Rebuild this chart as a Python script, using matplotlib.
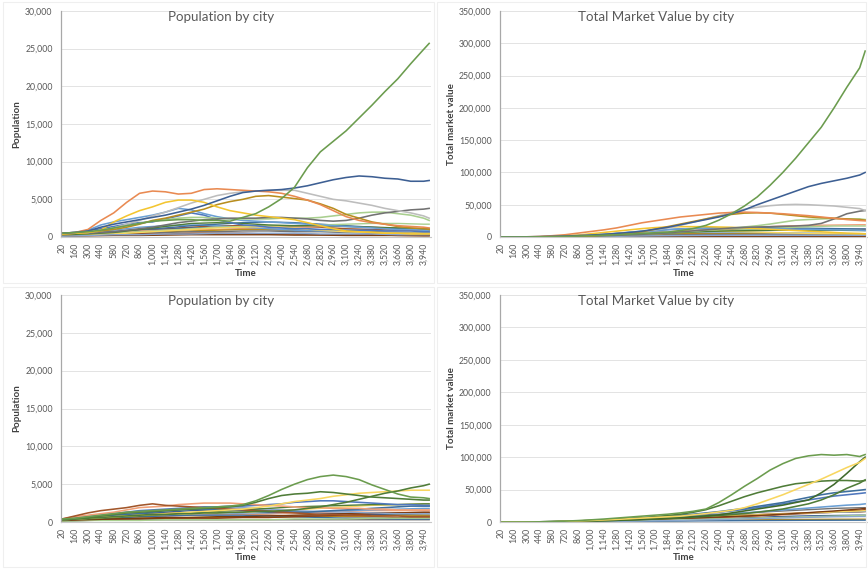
import matplotlib
matplotlib.use("Agg")
import matplotlib.pyplot as plt
from matplotlib.ticker import FuncFormatter, MultipleLocator

plt.rcParams['font.family'] = ['Lato', 'DejaVu Sans']

# ---------------------------------------------------------------- time axes
TIME = [20, 160, 300, 440, 580, 720, 860, 1000, 1140, 1280, 1420, 1560, 1700,
        1840, 1980, 2120, 2260, 2400, 2540, 2680, 2820, 2960, 3100, 3240, 3380,
        3520, 3660, 3800, 3940, 4000]
TIME_COARSE = [20, 300, 580, 860, 1140, 1420, 1700, 1980, 2260, 2540, 2820,
               3100, 3380, 3660, 3940, 4000]
TIME_TICKS = list(range(20, 3941, 140))

# ---------------------------------------------------------------- run A: population
POP_A_GREEN = [500, 600, 700, 900, 1200, 1500, 1800, 2100, 2200, 2300, 2300, 2200, 2200,
               2100, 2600, 3100, 4000, 5100, 6600, 9200, 11300, 12700, 14100, 15800, 17500,
               19300, 21000, 23000, 24900, 25700]
POP_A_DARKBLUE = [500, 600, 800, 1300, 1700, 2000, 2300, 2600, 2900, 3300, 3700, 4200, 4800,
                  5400, 5900, 6100, 6200, 6300, 6500, 6800, 7200, 7600, 7900, 8100, 8000,
                  7800, 7700, 7400, 7400, 7500]
POP_A_ORANGE = [500, 600, 1000, 2200, 3200, 4600, 5800, 6100, 6000, 5700, 5800, 6300, 6400,
                6300, 6200, 6100, 6000, 5800, 5400, 4900, 4300, 3500, 2700, 2200, 1900,
                1700, 1500, 1400, 1300, 1200]
POP_A_YELLOW = [400, 500, 600, 900, 2000, 2800, 3500, 4000, 4600, 4900, 4900, 4600, 4000,
                3500, 3200, 2900, 2700, 2500, 2300, 1900, 1500, 1100, 800, 700, 600,
                500, 500, 400, 400, 400]
POP_A_GOLD = [400, 500, 600, 800, 1000, 1300, 1700, 2200, 2500, 2900, 3300, 3700, 4300,
              4700, 5000, 5400, 5500, 5300, 5100, 4900, 4400, 3800, 3000, 2500, 2000,
              1700, 1400, 1200, 1100, 1000]
POP_A_LIGHTGRAY = [500, 500, 600, 800, 1200, 1700, 2200, 2800, 3300, 3900, 4500, 5000, 5500,
                   5800, 6000, 6100, 6200, 6200, 6200, 5800, 5400, 5000, 4800, 4500, 4200,
                   3800, 3500, 3200, 2800, 2500]
POP_A_DARKGRAY = [400, 500, 500, 600, 700, 900, 1100, 1300, 1600, 1900, 2100, 2300, 2400,
                  2500, 2500, 2500, 2600, 2600, 2500, 2400, 2200, 2100, 2200, 2500, 2900,
                  3200, 3400, 3600, 3700, 3800]
POP_A_LIGHTGREEN = [500, 500, 600, 900, 1200, 1500, 1800, 2100, 2300, 2500, 2600, 2600, 2500,
                    2400, 2400, 2400, 2400, 2500, 2500, 2500, 2600, 2800, 3000, 3200, 3300,
                    3300, 3100, 2900, 2500, 2200]
POP_A_BLUE = [500, 600, 900, 1600, 2000, 2300, 2600, 2900, 3300, 3800, 3600, 3100, 2700,
              2400, 2200, 2100, 2000, 1900, 1800, 1700, 1600, 1500, 1400, 1300, 1200,
              1100, 1000, 1000, 900, 900]
POP_A_BLUE2 = [500, 600, 800, 1100, 1400, 1700, 1900, 2000, 2400, 2800, 3200, 2900, 2300,
               1900, 1600, 1500, 1300, 1200, 1100, 1100, 1000, 1000, 900, 900, 900,
               800, 800, 800, 700, 700]
POP_A_MINOR = [
    [400, 500, 700, 900, 1100, 1300, 1500, 1500, 1500, 1400, 1300, 1100, 1000, 900, 900, 900],
    [400, 500, 600, 800, 1000, 1200, 1300, 1200, 1000, 900, 800, 700, 600, 600, 500, 500],
    [300, 400, 600, 800, 900, 1000, 1000, 1100, 1200, 1300, 1400, 1400, 1300, 1200, 1100, 1100],
    [300, 400, 500, 600, 700, 800, 900, 1000, 1000, 900, 800, 700, 700, 600, 600, 600],
    [300, 300, 400, 500, 600, 700, 700, 800, 800, 700, 700, 600, 500, 500, 400, 400],
    [500, 600, 900, 1300, 1500, 1600, 1500, 1300, 1100, 900, 800, 700, 600, 500, 500, 500],
    [400, 500, 700, 1000, 1200, 1500, 1700, 1900, 2000, 1900, 1700, 1500, 1300, 1100, 1000, 1000],
    [200, 300, 300, 400, 400, 500, 500, 500, 400, 400, 300, 300, 300, 200, 200, 200],
    [300, 400, 500, 700, 900, 1100, 1300, 1400, 1500, 1500, 1600, 1700, 1800, 1800, 1700, 1700],
    [200, 300, 400, 600, 800, 1000, 1200, 1300, 1400, 1200, 900, 700, 600, 500, 500, 500],
    [100, 150, 200, 200, 250, 300, 300, 300, 300, 250, 250, 200, 200, 200, 150, 150],
    [100, 200, 300, 300, 400, 400, 500, 500, 500, 500, 400, 400, 400, 300, 300, 300],
    [300, 400, 600, 1000, 1400, 1800, 1900, 1800, 1600, 1500, 1500, 1400, 1300, 1200, 1100, 1100],
]

# ---------------------------------------------------------------- run A: market value
MV_A_GREEN = [0, 0, 100, 300, 600, 1000, 1500, 2000, 2800, 3500, 4500, 5500, 6500, 7500,
              10000, 13000, 18000, 26000, 36000, 48000, 62000, 80000, 100000, 122000,
              146000, 170000, 200000, 232000, 262000, 288000]
MV_A_DARKBLUE = [0, 100, 300, 600, 1000, 1500, 2200, 3000, 4000, 5500, 7000, 9000, 12000,
                 15000, 19000, 23000, 27000, 31000, 36000, 42000, 50000, 57000, 64000,
                 71000, 78000, 83000, 87000, 91000, 96000, 100000]
MV_A_ORANGE = [0, 100, 300, 800, 2000, 3500, 6000, 8500, 11000, 14000, 18000, 22000, 25000,
               28000, 31000, 33000, 35000, 37000, 38000, 38500, 38000, 37000, 36000, 34500,
               33000, 31000, 29000, 27000, 25500, 25000]
MV_A_GOLD = [0, 100, 200, 400, 700, 1000, 1300, 1500, 3000, 4500, 6000, 8000, 12000, 16000,
             20000, 24000, 28000, 32000, 35000, 37000, 37500, 37000, 35000, 33000, 31000,
             30000, 29000, 28000, 27000, 26000]
MV_A_LIGHTGRAY = [0, 100, 200, 500, 900, 1400, 2000, 2800, 3800, 5000, 6500, 8500, 11000,
                  14000, 18000, 23000, 28000, 33000, 38000, 43000, 46000, 48500, 50000,
                  50500, 50000, 49000, 48000, 46000, 44000, 41000]
MV_A_DARKGRAY = [0, 0, 100, 200, 400, 600, 900, 1300, 1800, 2500, 3300, 4200, 5300, 6500,
                 8000, 9500, 11000, 12500, 14000, 15000, 15500, 16000, 16500, 17000, 18000,
                 21000, 28000, 36000, 40000, 41000]
MV_A_LIGHTGREEN = [0, 0, 100, 200, 400, 700, 1000, 1500, 2100, 2900, 3800, 4800, 5900, 7000,
                   8000, 9000, 10500, 12000, 13500, 15500, 17500, 20000, 23000, 26000,
                   27000, 28000, 28500, 28000, 28000, 27000]
MV_A_YELLOW = [0, 0, 100, 300, 800, 1700, 3000, 5000, 7000, 9000, 11000, 13000, 14500,
               15500, 16000, 16000, 16000, 15500, 15000, 14000, 13000, 12000, 11000,
               10000, 9000, 8000, 7000, 6000, 5500, 5000]
MV_A_BLUE = [0, 0, 100, 300, 500, 900, 1500, 2500, 4000, 5500, 7500, 9000, 10000, 11500,
             12500, 13000, 13500, 14000, 14000, 13500, 13000, 12800, 12500, 12000, 12000,
             11500, 11000, 11000, 10500, 10000]
MV_A_MINOR = [
    [0, 100, 500, 1500, 3000, 5000, 7000, 9000, 11000, 12000, 13000, 13000, 13000, 12000, 12000, 12000],
    [0, 100, 400, 1200, 2500, 4000, 5000, 5500, 5500, 5000, 4500, 4000, 3500, 3000, 3000, 3000],
    [0, 100, 500, 1500, 3000, 5000, 7000, 9000, 11000, 13000, 15000, 17000, 18000, 18500, 19000, 19000],
    [0, 100, 300, 900, 1800, 3000, 4000, 5000, 5500, 5500, 5000, 4500, 4000, 3800, 3500, 3500],
    [0, 100, 200, 600, 1200, 2000, 2800, 3500, 4000, 4000, 3800, 3500, 3200, 3000, 2800, 2800],
    [0, 100, 600, 2000, 4000, 6000, 7500, 8000, 8000, 7500, 7000, 6500, 6000, 5500, 5000, 5000],
    [0, 100, 500, 1800, 4000, 7000, 10000, 12500, 14000, 14500, 14500, 14000, 13500, 13000, 12500, 12500],
    [0, 0, 100, 200, 300, 500, 600, 700, 700, 700, 600, 600, 500, 500, 400, 400],
    [0, 100, 300, 1000, 2000, 3500, 5000, 7000, 9000, 10500, 12000, 14000, 16000, 17000, 17000, 17000],
    [0, 100, 300, 1000, 2500, 4500, 6500, 8000, 9000, 8500, 7500, 6500, 5500, 5000, 4500, 4500],
    [0, 0, 50, 100, 200, 300, 300, 300, 300, 300, 300, 250, 250, 250, 200, 200],
    [0, 50, 150, 400, 800, 1300, 1800, 2200, 2500, 2700, 2800, 2800, 2800, 2700, 2600, 2600],
    [0, 100, 400, 1200, 2500, 4000, 5500, 7000, 8500, 9500, 10000, 10500, 10500, 10500, 10000, 10000],
]

# ---------------------------------------------------------------- run B: population
POP_B_GREEN = [400, 500, 700, 900, 1100, 1300, 1400, 1500, 1600, 1700, 1800, 1900, 2000,
               2100, 2300, 2800, 3500, 4300, 5000, 5600, 6000, 6200, 6000, 5600, 4900,
               4300, 3700, 3300, 3200, 3100]
POP_B_GREEN2 = [300, 400, 600, 800, 1000, 1200, 1300, 1400, 1500, 1600, 1700, 1800, 1900,
                2000, 2200, 2600, 3100, 3500, 3700, 3800, 4000, 3900, 3700, 3500, 3300,
                3200, 3100, 3000, 2900, 2900]
POP_B_GREEN3 = [300, 400, 500, 600, 700, 800, 900, 1000, 1000, 1100, 1100, 1200, 1200,
                1300, 1300, 1400, 1400, 1500, 1600, 1800, 2000, 2300, 2600, 3000, 3400,
                3800, 4100, 4500, 4800, 5000]
POP_B_YELLOW = [300, 400, 500, 600, 700, 800, 900, 1000, 1100, 1200, 1300, 1400, 1500,
                1600, 1700, 1900, 2100, 2400, 2700, 2900, 3100, 3400, 3600, 3800, 3900,
                4000, 4100, 4200, 4200, 4200]
POP_B_REDORANGE = [400, 800, 1200, 1500, 1700, 1900, 2200, 2400, 2200, 2100, 2000, 1900,
                   1800, 1700, 1600, 1500, 1400, 1300, 1200, 1100, 1000, 1000, 900, 900,
                   800, 800, 800, 700, 700, 700]
POP_B_ORANGE = [400, 700, 900, 1100, 1300, 1600, 1900, 2000, 2100, 2300, 2400, 2500, 2500,
                2500, 2400, 2300, 2200, 2100, 2000, 1900, 1900, 1800, 1800, 1800, 1700,
                1700, 1600, 1600, 1600, 1600]
POP_B_BLUE = [400, 500, 700, 900, 1100, 1300, 1500, 1600, 1700, 1800, 1900, 2000, 2000,
              2100, 2100, 2200, 2300, 2400, 2600, 2700, 2800, 2800, 2700, 2600, 2500,
              2400, 2300, 2300, 2200, 2200]
POP_B_DARKBLUE = [300, 400, 600, 800, 900, 1000, 1100, 1300, 1500, 1600, 1700, 1700, 1700,
                  1600, 1500, 1400, 1300, 1300, 1300, 1300, 1400, 1500, 1600, 1700, 1800,
                  1900, 2000, 2100, 2100, 2100]
POP_B_MINOR = [
    [300, 600, 900, 1100, 1200, 1200, 1100, 1000, 900, 800, 800, 700, 700, 600, 600, 600],
    [200, 500, 800, 1000, 1300, 1500, 1600, 1700, 1500, 1300, 1200, 1100, 1000, 1000, 900, 900],
    [300, 500, 600, 700, 800, 900, 1000, 1000, 1100, 1200, 1300, 1400, 1500, 1500, 1500, 1500],
    [200, 300, 400, 500, 500, 600, 600, 600, 600, 700, 700, 800, 800, 900, 900, 900],
    [100, 200, 300, 300, 300, 300, 300, 300, 300, 300, 300, 300, 300, 300, 300, 300],
    [400, 600, 800, 900, 1000, 1100, 1100, 1200, 1200, 1300, 1400, 1500, 1600, 1700, 1800, 1800],
    [300, 400, 500, 700, 800, 900, 900, 900, 800, 700, 600, 500, 500, 400, 400, 400],
    [200, 300, 400, 400, 500, 500, 500, 600, 600, 700, 800, 900, 1100, 1200, 1300, 1300],
    [100, 200, 200, 200, 300, 300, 300, 300, 300, 400, 400, 400, 500, 500, 500, 500],
    [300, 500, 700, 900, 1000, 1100, 1200, 1300, 1400, 1600, 1800, 2000, 2200, 2300, 2400, 2400],
    [200, 300, 400, 500, 600, 600, 700, 700, 800, 900, 1000, 1100, 1200, 1200, 1200, 1200],
    [400, 700, 1000, 1300, 1600, 1800, 1900, 1900, 1700, 1500, 1400, 1300, 1200, 1100, 1100, 1100],
    [300, 400, 600, 800, 1000, 1200, 1400, 1600, 1800, 2000, 2100, 2200, 2300, 2300, 2400, 2400],
]

# ---------------------------------------------------------------- run B: market value
MV_B_GREEN = [0, 0, 100, 300, 700, 1300, 2200, 3300, 4500, 6000, 7500, 9000, 10500, 12000,
              14000, 16500, 20000, 30000, 42000, 55000, 67000, 80000, 90000, 98000,
              102000, 104000, 103000, 104000, 101000, 104000]
MV_B_YELLOW = [0, 0, 100, 300, 600, 1100, 1700, 2400, 3200, 4000, 5000, 6000, 7000, 8000,
               9000, 11000, 13000, 15500, 18000, 22000, 28000, 35000, 42000, 50000, 58000,
               66000, 75000, 84000, 92000, 98000]
MV_B_GREEN2 = [0, 0, 100, 300, 600, 1000, 1600, 2300, 3200, 4200, 5300, 6500, 8000, 10000,
               12000, 15000, 19000, 25000, 32000, 39000, 45000, 50000, 55000, 59000, 61000,
               63000, 64000, 64000, 63000, 64000]
MV_B_GREEN3 = [0, 0, 100, 200, 400, 700, 1000, 1500, 2000, 2700, 3400, 4200, 5000, 6000,
               7000, 8000, 9500, 11000, 14000, 17000, 20000, 23000, 26000, 30000, 34000,
               45000, 58000, 75000, 93000, 100000]
MV_B_GREEN4 = [0, 0, 100, 200, 300, 600, 900, 1300, 1800, 2400, 3000, 3700, 4500, 5400,
               6400, 7500, 8700, 10000, 11500, 13000, 15000, 17500, 20000, 24000, 28000,
               34000, 42000, 52000, 60000, 65000]
MV_B_DARKBLUE = [0, 0, 100, 300, 600, 1000, 1600, 2300, 3200, 4200, 5300, 6500, 7800, 9000,
                 10500, 12000, 14000, 16000, 18500, 21000, 24000, 27000, 30000, 34000,
                 38000, 42000, 45000, 47000, 49000, 50000]
MV_B_BLUE = [0, 0, 100, 300, 500, 900, 1400, 2000, 2800, 3700, 4700, 5800, 7000, 8200,
             9500, 11000, 13000, 15000, 17000, 19500, 22000, 25000, 28000, 31000, 34000,
             37000, 40000, 42000, 44000, 45000]
MV_B_BLUE2 = [0, 0, 100, 200, 400, 700, 1100, 1600, 2200, 2900, 3700, 4500, 5400, 6300,
              7300, 8300, 9500, 11000, 12500, 14000, 15500, 17000, 18500, 20000, 21500,
              23000, 24500, 26000, 27000, 28000]
MV_B_MINOR = [
    [0, 100, 400, 1200, 2500, 4000, 5500, 7000, 8500, 10000, 11500, 13000, 14000, 15000, 15500, 16000],
    [0, 50, 200, 700, 1500, 2500, 3500, 4500, 5500, 6500, 7500, 8500, 9500, 10000, 10500, 10500],
    [0, 50, 300, 900, 1800, 3000, 4200, 5400, 6500, 7500, 9000, 11000, 13000, 15000, 17000, 18000],
    [0, 50, 200, 500, 900, 1400, 1900, 2400, 2800, 3200, 3500, 3800, 4000, 4200, 4300, 4300],
    [0, 100, 500, 1500, 3000, 5000, 7000, 9000, 11000, 13000, 15000, 17000, 19000, 21000, 22000, 22000],
    [0, 50, 300, 1000, 2000, 3300, 4600, 6000, 7500, 9000, 10500, 12000, 13500, 15000, 16000, 16500],
    [0, 0, 100, 300, 600, 900, 1200, 1500, 1800, 2000, 2200, 2400, 2600, 2700, 2800, 2800],
    [0, 50, 250, 800, 1700, 2800, 4000, 5300, 6700, 8200, 10000, 12000, 14000, 16000, 18000, 19000],
    [0, 50, 200, 600, 1200, 2000, 2800, 3600, 4400, 5200, 6000, 7000, 8000, 9000, 10000, 10500],
    [0, 100, 400, 1100, 2200, 3600, 5000, 6500, 8000, 9500, 11000, 12500, 14000, 15500, 17000, 17500],
    [0, 50, 300, 900, 1800, 3000, 4300, 5600, 7000, 8500, 10000, 12000, 14500, 17000, 20000, 21000],
    [0, 0, 100, 300, 700, 1200, 1800, 2500, 3300, 4200, 5200, 6200, 7200, 8000, 8500, 8500],
]

# ---------------------------------------------------------------- palette
C_BLUE = "#4f77bd"
C_ORANGE = "#e98a52"
C_GRAY = "#bdbdbd"
C_YELLOW = "#f3c530"
C_LTBLUE = "#6a9fd4"
C_GREEN = "#6b9c4e"
C_DKBLUE = "#3d5f93"
C_BROWN = "#a2562a"
C_DKGRAY = "#727272"
C_DKGOLD = "#b88d1e"
C_TEAL = "#3e6f9e"
C_DKGREEN = "#4f7c38"
C_SALMON = "#f0a078"
C_LTGREEN = "#a9cf8f"
C_LTYELLOW = "#f8d660"
C_BLUEGRAY = "#8aa7cf"

MINOR_COLORS = [C_BROWN, C_DKBLUE, C_SALMON, C_DKGOLD, C_DKGRAY, C_LTBLUE, C_TEAL,
                "#8b3f17", C_LTGREEN, C_LTYELLOW, "#7a3b10", C_BLUEGRAY, C_DKGREEN]

TEXT_COLOR = "#595959"
LABEL_COLOR = "#404040"
GRID_COLOR = "#e3e3e3"

FIG_W, FIG_H = 868, 569
fig = plt.figure(figsize=(FIG_W / 100, FIG_H / 100), dpi=100)
fig.patch.set_facecolor("white")


def make_axes(left, top, right, bottom):
    return fig.add_axes([left / FIG_W, 1 - bottom / FIG_H,
                         (right - left) / FIG_W, (bottom - top) / FIG_H])


def style_axes(ax, ymax, ystep):
    ax.set_xlim(8, 4020)
    ax.set_ylim(0, ymax)
    ax.yaxis.set_major_locator(MultipleLocator(ystep))
    ax.yaxis.set_major_formatter(FuncFormatter(lambda v, _: f"{int(v):,}"))
    ax.set_xticks(TIME_TICKS)
    ax.set_xticklabels([f"{t:,}" for t in TIME_TICKS], rotation=90)
    ax.grid(axis="y", color=GRID_COLOR, linewidth=0.7)
    ax.set_axisbelow(True)
    for side in ("top", "right"):
        ax.spines[side].set_visible(False)
    ax.spines["left"].set_color("#a8a8a8")
    ax.spines["left"].set_linewidth(0.9)
    ax.spines["bottom"].set_color("#c8c8c8")
    ax.spines["bottom"].set_linewidth(0.8)
    ax.tick_params(axis="both", length=0, labelsize=6.3, colors=TEXT_COLOR)
    ax.tick_params(axis="y", pad=6)
    ax.tick_params(axis="x", pad=4)


def draw_minor(ax, series_list):
    for vals, col in zip(series_list, MINOR_COLORS):
        ax.plot(TIME_COARSE, vals, color=col, lw=1.0)


def draw_major(ax, pairs):
    for vals, col in pairs:
        ax.plot(TIME, vals, color=col, lw=1.15)


# panel pixel boxes: left, top, right, bottom
ax_tl = make_axes(61, 11, 431, 237)
ax_tr = make_axes(500, 11, 867, 237)
ax_bl = make_axes(61, 295, 431, 522)
ax_br = make_axes(500, 295, 867, 522)

for ax, ymax, ystep in ((ax_tl, 30000, 5000), (ax_tr, 350000, 50000),
                        (ax_bl, 30000, 5000), (ax_br, 350000, 50000)):
    style_axes(ax, ymax, ystep)

draw_minor(ax_tl, POP_A_MINOR)
draw_major(ax_tl, [
    (POP_A_BLUE2, C_BLUE), (POP_A_BLUE, C_LTBLUE), (POP_A_LIGHTGREEN, C_LTGREEN),
    (POP_A_DARKGRAY, C_DKGRAY), (POP_A_LIGHTGRAY, C_GRAY), (POP_A_GOLD, C_DKGOLD),
    (POP_A_YELLOW, C_YELLOW), (POP_A_ORANGE, C_ORANGE), (POP_A_DARKBLUE, C_DKBLUE),
    (POP_A_GREEN, C_GREEN),
])

draw_minor(ax_tr, MV_A_MINOR)
draw_major(ax_tr, [
    (MV_A_BLUE, C_LTBLUE), (MV_A_YELLOW, C_YELLOW), (MV_A_LIGHTGREEN, C_LTGREEN),
    (MV_A_DARKGRAY, C_DKGRAY), (MV_A_LIGHTGRAY, C_GRAY), (MV_A_GOLD, C_DKGOLD),
    (MV_A_ORANGE, C_ORANGE), (MV_A_DARKBLUE, C_DKBLUE), (MV_A_GREEN, C_GREEN),
])

draw_minor(ax_bl, POP_B_MINOR)
draw_major(ax_bl, [
    (POP_B_DARKBLUE, C_TEAL), (POP_B_BLUE, C_BLUE), (POP_B_ORANGE, C_SALMON),
    (POP_B_REDORANGE, C_BROWN), (POP_B_YELLOW, C_LTYELLOW), (POP_B_GREEN3, C_DKGREEN),
    (POP_B_GREEN2, C_DKGREEN), (POP_B_GREEN, C_GREEN),
])

draw_minor(ax_br, MV_B_MINOR)
draw_major(ax_br, [
    (MV_B_BLUE2, C_LTBLUE), (MV_B_BLUE, C_BLUE), (MV_B_DARKBLUE, C_TEAL),
    (MV_B_GREEN4, C_DKGREEN), (MV_B_GREEN3, "#3f6a2c"), (MV_B_GREEN2, C_DKGREEN),
    (MV_B_YELLOW, C_LTYELLOW), (MV_B_GREEN, C_GREEN),
])

# chart titles and axis titles
for cx, cy, txt in ((221, 17, "Population by city"), (656, 17, "Total Market Value by city"),
                    (221, 301, "Population by city"), (656, 301, "Total Market Value by city")):
    fig.text(cx / FIG_W, 1 - cy / FIG_H, txt, ha="center", va="center",
             fontsize=9.6, color=TEXT_COLOR)

for cx, cy, txt in ((17, 124, "Population"), (452, 124, "Total market value"),
                    (17, 408, "Population"), (452, 408, "Total market value")):
    fig.text(cx / FIG_W, 1 - cy / FIG_H, txt, ha="center", va="center", rotation=90,
             fontsize=7, fontweight="bold", color=LABEL_COLOR)

for cx, cy in ((246, 273), (684, 273), (246, 557), (684, 557)):
    fig.text(cx / FIG_W, 1 - cy / FIG_H, "Time", ha="center", va="center",
             fontsize=7, fontweight="bold", color=LABEL_COLOR)

# faint frames around each chart
for x0, y0, x1, y1 in ((3, 2, 434, 283), (437, 2, 866, 283),
                       (3, 287, 434, 567), (437, 287, 866, 567)):
    fig.add_artist(plt.Rectangle((x0 / FIG_W, 1 - y1 / FIG_H), (x1 - x0) / FIG_W,
                                 (y1 - y0) / FIG_H, transform=fig.transFigure,
                                 fill=False, edgecolor="#efefef", linewidth=0.8))

fig.savefig("out.png", dpi=100, facecolor="white")
